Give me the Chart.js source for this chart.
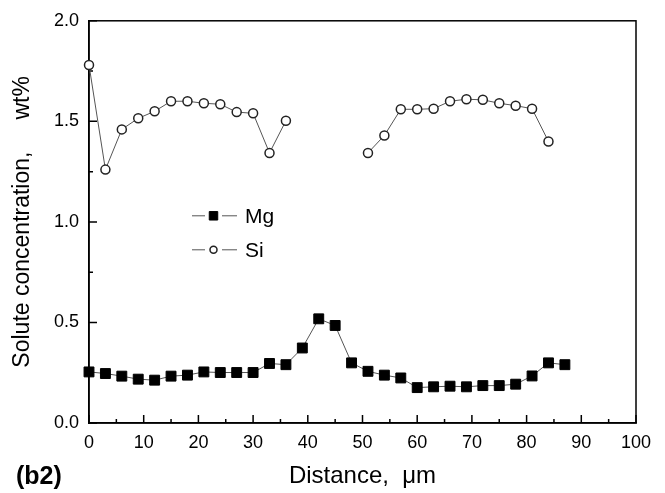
<!DOCTYPE html>
<html>
<head>
<meta charset="utf-8">
<script src="https://cdn.jsdelivr.net/npm/chart.js@4.4.1/dist/chart.umd.min.js"></script>
<style>
  html, body { margin: 0; padding: 0; background: #fff; }
  #wrap { width: 665px; height: 493px; position: relative; }
</style>
</head>
<body>
<div id="wrap"><canvas id="c" width="665" height="493"></canvas></div>
<script>
// Distance (μm)
const distance = [0,3,6,9,12,15,18,21,24,27,30,33,36,39,42,45,48,51,54,57,60,63,66,69,72,75,78,81,84,87];
// Mg concentration (wt%)
const mg = [0.254,0.246,0.233,0.218,0.213,0.233,0.238,0.254,0.251,0.251,0.251,0.296,0.290,0.373,0.518,0.485,0.299,0.257,0.238,0.224,0.176,0.180,0.183,0.180,0.186,0.186,0.193,0.234,0.299,0.290];
// Si concentration (wt%), gaps where not measured
const si = [1.78,1.26,1.46,1.515,1.55,1.60,1.60,1.59,1.585,1.546,1.54,1.343,1.503,null,null,null,null,1.343,1.43,1.56,1.56,1.563,1.60,1.61,1.607,1.59,1.578,1.563,1.40,null];
const seriesNames = ['Mg','Si'];
const xTicks = [0,10,20,30,40,50,60,70,80,90,100];
const yTicks = [0.0,0.5,1.0,1.5,2.0];

const FONT = "'Liberation Sans', Arial, Helvetica, sans-serif";

function pts(ys){ return distance.map((x,i)=>({x:x,y:ys[i]})); }

const framePlugin = {
  id: 'frame',
  beforeDatasetsDraw(chart){
    const {ctx, chartArea:a, scales:{x, y}} = chart;
    ctx.save();
    ctx.strokeStyle = '#000';
    ctx.lineWidth = 1.5;
    ctx.strokeRect(a.left, a.top, a.right - a.left, a.bottom - a.top);
    ctx.beginPath();
    for (let v = 0; v <= 100; v += 5) {
      const px = x.getPixelForValue(v);
      const len = (v % 10 === 0) ? 8 : 4;
      ctx.moveTo(px, a.bottom); ctx.lineTo(px, a.bottom - len);
    }
    for (let v = 0; v <= 2.0001; v += 0.25) {
      const py = y.getPixelForValue(v);
      const len = (Math.abs(v*2 - Math.round(v*2)) < 1e-6) ? 8 : 4;
      ctx.moveTo(a.left, py); ctx.lineTo(a.left + len, py);
    }
    ctx.stroke();
    ctx.restore();
  },
  afterDraw(chart){
    const {ctx, chartArea:a} = chart;
    ctx.save();
    // legend
    const items = chart.data.datasets;
    const lx = a.left + 103, ly = a.top + 195, gap = 34;
    items.forEach((ds, i) => {
      const yy = ly + i * gap;
      ctx.strokeStyle = ds.borderColor;
      ctx.lineWidth = 1;
      ctx.beginPath();
      ctx.moveTo(lx, yy); ctx.lineTo(lx + 13, yy);
      ctx.moveTo(lx + 30, yy); ctx.lineTo(lx + 45, yy);
      ctx.stroke();
      ctx.fillStyle = ds.pointBackgroundColor;
      ctx.strokeStyle = ds.pointBorderColor;
      ctx.lineWidth = ds.pointBorderWidth;
      Chart.helpers.drawPoint(ctx, {pointStyle: ds.pointStyle, radius: ds.legendRadius, borderWidth: ds.pointBorderWidth}, lx + 21.5, yy);
      ctx.fillStyle = '#000';
      ctx.font = '21px ' + FONT;
      ctx.textBaseline = 'middle';
      ctx.textAlign = 'left';
      ctx.fillText(ds.label, lx + 53, yy + 1);
    });
    // panel label
    ctx.font = 'bold 25px ' + FONT;
    ctx.textBaseline = 'middle';
    ctx.fillStyle = '#000';
    ctx.fillText('(b2)', 16, 477);
    ctx.restore();
  }
};

new Chart(document.getElementById('c'), {
  type: 'line',
  data: {
    datasets: [
      {
        label: seriesNames[0], data: pts(mg),
        borderColor: '#555', borderWidth: 1,
        pointStyle: 'rect', pointRadius: 7, legendRadius: 6,
        pointBackgroundColor: '#000', pointBorderColor: '#000', pointBorderWidth: 1,
        clip: false, tension: 0
      },
      {
        label: seriesNames[1], data: pts(si),
        borderColor: '#555', borderWidth: 1,
        pointStyle: 'circle', pointRadius: 4.5, legendRadius: 3.5,
        pointBackgroundColor: '#fff', pointBorderColor: '#222', pointBorderWidth: 1.5,
        clip: false, tension: 0, spanGaps: false
      }
    ]
  },
  options: {
    responsive: false,
    animation: false,
    events: [],
    layout: { padding: { top: 19, right: 29, left: 0, bottom: 0 } },
    plugins: { legend: { display: false }, tooltip: { enabled: false } },
    scales: {
      x: {
        type: 'linear', position: 'bottom', min: 0, max: 100,
        afterBuildTicks(s){ s.ticks = xTicks.map(v => ({value: v})); },
        afterFit(s){ s.height = 70; },
        grid: { drawOnChartArea: false, drawTicks: false },
        border: { color: '#000', width: 1.5 },
        ticks: { color: '#000', font: { size: 18, family: FONT }, padding: 9, autoSkip: false, maxRotation: 0 },
        title: { display: true, text: 'Distance,  μm', color: '#000', font: { size: 24, family: FONT }, padding: { bottom: 2, top: 0 } }
      },
      y: {
        type: 'linear', min: 0, max: 2,
        afterBuildTicks(s){ s.ticks = yTicks.map(v => ({value: v})); },
        afterFit(s){ s.width = 89; },
        grid: { drawOnChartArea: false, drawTicks: false },
        border: { color: '#000', width: 1.5 },
        ticks: { color: '#000', font: { size: 18, family: FONT }, padding: 10, callback: v => Number(v).toFixed(1) },
        title: { display: true, text: 'Solute concentration,     wt%', color: '#000', font: { size: 23, family: FONT }, padding: { top: 9, bottom: 0 } }
      }
    }
  },
  plugins: [framePlugin]
});
</script>
</body>
</html>
